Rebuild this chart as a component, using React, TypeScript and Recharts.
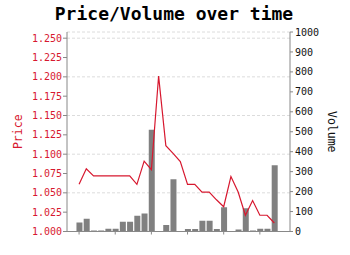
import { Bar, CartesianGrid, ComposedChart, Line, XAxis, YAxis } from 'recharts';

const days = [
  0, 1, 2, 3, 4, 5, 6, 7, 8, 9, 10, 11, 12, 13, 14, 15, 16, 17, 18, 19, 20,
  21, 22, 23, 24, 25, 26, 27,
];
const price = [
  1.061, 1.081, 1.072, 1.072, 1.072, 1.072, 1.072, 1.072, 1.061, 1.091, 1.08,
  1.201, 1.111, 1.101, 1.0905, 1.061, 1.061, 1.051, 1.051, 1.041, 1.032, 1.071,
  1.051, 1.021, 1.04, 1.021, 1.021, 1.011,
];
const volume = [
  45, 64, 5, 5, 14, 14, 49, 49, 79, 90, 510, 0, 32, 262, 0, 12, 12, 54, 54, 12,
  122, 2, 10, 117, 5, 14, 14, 332,
];
const priceTicks = [
  1.0, 1.025, 1.05, 1.075, 1.1, 1.125, 1.15, 1.175, 1.2, 1.225, 1.25,
];
const volumeTicks = [0, 100, 200, 300, 400, 500, 600, 700, 800, 900, 1000];
const dayTicks = [0, 5, 10, 15, 20, 25];

const RED = '#d7182f';
const MONO = '"DejaVu Sans Mono", monospace';

export default function App() {
  const data = days.map((d, i) => ({ day: d, price: price[i], volume: volume[i] }));

  return (
    <div
      style={{
        position: 'fixed',
        left: 0,
        top: 0,
        width: 350,
        height: 255,
        background: '#fff',
      }}
    >
      <div
        style={{
          position: 'absolute',
          left: 0,
          top: 4,
          width: 348,
          textAlign: 'center',
          fontFamily: MONO,
          fontWeight: 'bold',
          fontSize: 18,
          lineHeight: '20px',
        }}
      >
        Price/Volume over time
      </div>
      <ComposedChart
        width={350}
        height={255}
        data={data}
        margin={{ top: 32, right: 0, bottom: 0, left: 0 }}
      >
        <CartesianGrid
          yAxisId="price"
          vertical={false}
          stroke="#dcdcdc"
          strokeDasharray="3 2"
        />
        <XAxis
          dataKey="day"
          type="number"
          domain={[-1.67, 29.17]}
          ticks={dayTicks}
          tickFormatter={() => ''}
          height={23.5}
          stroke="#888"
          tickSize={3}
          allowDataOverflow
        />
        <YAxis
          yAxisId="price"
          orientation="left"
          type="number"
          domain={[1.0, 1.258]}
          ticks={priceTicks}
          tickFormatter={(v: number) => v.toFixed(3)}
          width={67}
          stroke="#888"
          tickSize={4}
          tickMargin={1}
          allowDataOverflow
          tick={{ fill: RED, fontSize: 10, fontFamily: MONO }}
          label={({ viewBox }: any) => {
            const cy = viewBox.y + viewBox.height / 2;
            return (
              <text
                x={22}
                y={cy}
                transform={`rotate(-90 22 ${cy})`}
                textAnchor="middle"
                fill={RED}
                fontSize={11.5}
                fontFamily={MONO}
              >
                Price
              </text>
            );
          }}
        />
        <YAxis
          yAxisId="volume"
          orientation="right"
          type="number"
          domain={[0, 1000]}
          ticks={volumeTicks}
          width={60}
          stroke="#888"
          tickSize={3}
          tickMargin={2}
          allowDataOverflow
          tick={{ fill: '#111', fontSize: 10, fontFamily: MONO }}
          label={({ viewBox }: any) => {
            const cy = viewBox.y + viewBox.height / 2;
            return (
              <text
                x={328}
                y={cy}
                transform={`rotate(90 328 ${cy})`}
                textAnchor="middle"
                fill="#111"
                fontSize={11.5}
                fontFamily={MONO}
              >
                Volume
              </text>
            );
          }}
        />
        <Bar
          yAxisId="volume"
          dataKey="volume"
          fill="#808080"
          barSize={6}
          isAnimationActive={false}
        />
        <Line
          yAxisId="price"
          dataKey="price"
          stroke={RED}
          strokeWidth={1.2}
          dot={false}
          activeDot={false}
          isAnimationActive={false}
        />
      </ComposedChart>
    </div>
  );
}
